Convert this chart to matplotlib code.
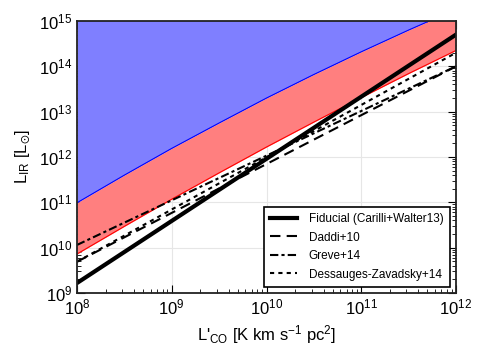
import numpy as np
import matplotlib
matplotlib.use("Agg")
import matplotlib.pyplot as plt

plt.rcParams["font.family"] = ["Liberation Sans", "DejaVu Sans"]
plt.rcParams["mathtext.fontset"] = "custom"
plt.rcParams["mathtext.rm"] = "Liberation Sans"
plt.rcParams["mathtext.it"] = "Liberation Sans:italic"
plt.rcParams["mathtext.sf"] = "Liberation Sans"
plt.rcParams["mathtext.default"] = "regular"

# =========================
# Data (log10 values)
# =========================

# allowed region (band edges), sampled along L'CO
log_lco_band = [8.0, 8.5, 9.0, 9.5, 10.0, 10.5, 11.0, 11.5, 12.0]
log_lir_band_top = [10.99, 11.60, 12.19, 12.75, 13.30, 13.82, 14.32, 14.80, 15.26]
log_lir_band_low = [9.86, 10.47, 11.07, 11.65, 12.22, 12.77, 13.31, 13.84, 14.35]

# scaling relations, end points at L'CO = 1e8 and 1e12
log_lco_ends = [8.0, 12.0]
log_lir_fiducial = [9.22, 14.70]
log_lir_daddi = [9.69, 14.00]
log_lir_greve = [10.06, 14.00]
log_lir_dz = [9.69, 14.30]

labels = [
    "Fiducial (Carilli+Walter13)",
    "Daddi+10",
    "Greve+14",
    "Dessauges-Zavadsky+14",
]

# =========================
# Plot
# =========================

x_band = 10 ** np.array(log_lco_band)
top = 10 ** np.array(log_lir_band_top)
low = 10 ** np.array(log_lir_band_low)
x_ends = 10 ** np.array(log_lco_ends)

fig = plt.figure(figsize=(4.85, 3.59), dpi=100)
ax = fig.add_axes([77 / 485, 1 - 293 / 359, 379 / 485, 272 / 359])

ax.fill_between(x_band, top, 1e16, color="#7f7fff", lw=0, zorder=1)
ax.fill_between(x_band, low, top, color="#ff7f7f", lw=0, zorder=1)
ax.plot(x_band, top, color="blue", lw=0.8, zorder=2)
ax.plot(x_band, low, color="red", lw=0.8, zorder=2)

ax.plot(x_ends, 10 ** np.array(log_lir_fiducial), color="k", lw=3, label=labels[0], zorder=3)
ax.plot(x_ends, 10 ** np.array(log_lir_daddi), color="k", lw=1.5, ls=(0, (5, 3)), label=labels[1], zorder=3)
ax.plot(x_ends, 10 ** np.array(log_lir_greve), color="k", lw=1.5, ls=(0, (4, 1.5, 1.5, 1.5)), label=labels[2], zorder=3)
ax.plot(x_ends, 10 ** np.array(log_lir_dz), color="k", lw=1.5, ls=(0, (2, 2)), label=labels[3], zorder=3)

ax.set_xscale("log")
ax.set_yscale("log")
ax.set_xlim(1e8, 1e12)
ax.set_ylim(1e9, 1e15)

ax.grid(True, which="major", color="#e6e6e6", lw=0.8, zorder=0)
ax.set_axisbelow(True)
ax.tick_params(which="both", direction="in", top=True, right=True, labelsize=12)
ax.tick_params(which="major", length=6, width=0.8)
ax.tick_params(which="minor", length=3, width=0.6)
for sp in ax.spines.values():
    sp.set_linewidth(1.3)
    sp.set_color("#222222")
    sp.set_zorder(5)

ax.set_xlabel(r"L$'_{\rm CO}$ [K km s$^{-1}$ pc$^{2}$]", fontsize=12)
ax.set_ylabel(r"L$_{\rm IR}$ [L$_{\odot}$]", fontsize=12)

leg = ax.legend(loc="lower right", fontsize=8.5, fancybox=False, framealpha=1,
                edgecolor="k", borderaxespad=0.55, handlelength=2.3,
                handletextpad=1.0, borderpad=0.5, labelspacing=0.55)
leg.get_frame().set_linewidth(1.2)
leg.set_zorder(6)

fig.savefig("out.png", dpi=100)
